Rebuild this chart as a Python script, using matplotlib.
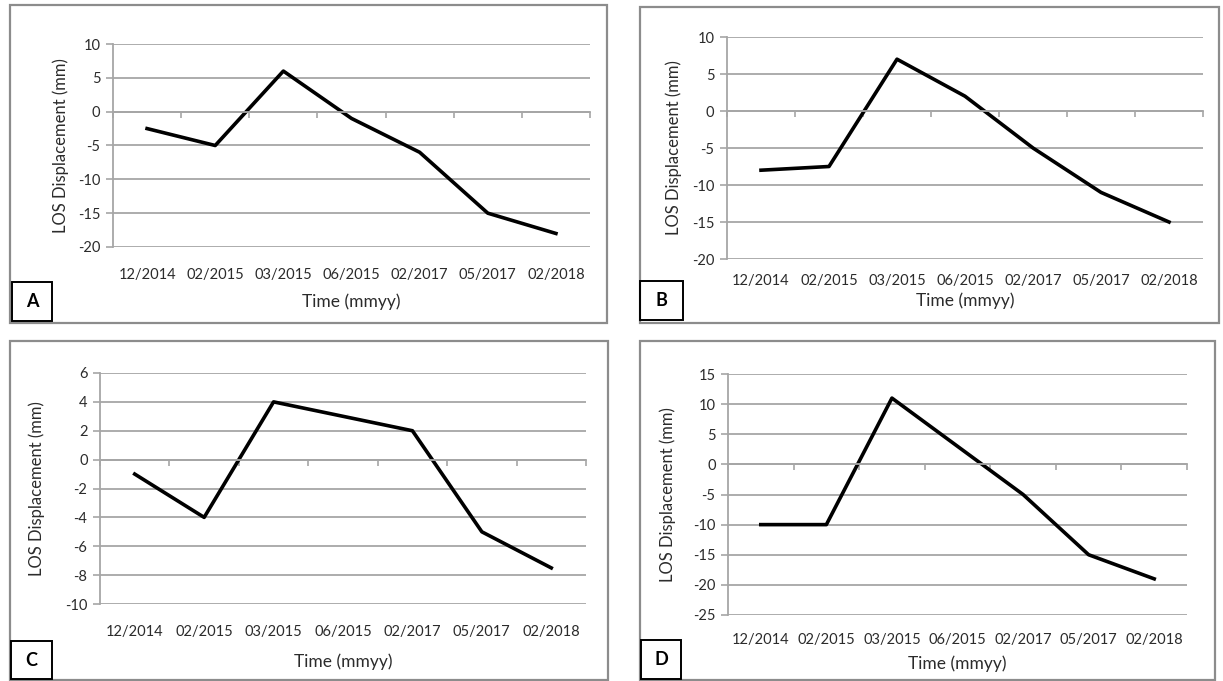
import numpy as np
import matplotlib
matplotlib.use("Agg")
import matplotlib.pyplot as plt
from matplotlib.patches import Rectangle

plt.rcParams["font.family"] = ["Lato", "DejaVu Sans"]
plt.rcParams["axes.unicode_minus"] = False

# Acquisition dates (categories) shared by all four panels
dates = ["12/2014", "02/2015", "03/2015", "06/2015", "02/2017", "05/2017", "02/2018"]

# LOS displacement series (mm)
disp_a = [-2.5, -5, 6, -1, -6, -15, -18]
disp_b = [-8, -7.5, 7, 2, -5, -11, -15]
disp_c = [-1, -4, 4, 3, 2, -5, -7.5]
disp_d = [-10, -10, 11, 3, -5, -15, -19]

W, H = 1223, 681
fig = plt.figure(figsize=(W / 100, H / 100), dpi=100)
fig.patch.set_facecolor("white")


def fx(x):
    return x / W


def fy(y):
    return 1 - y / H


def frame(x0, y0, x1, y1, **kw):
    r = Rectangle((fx(x0), fy(y1)), fx(x1 - x0), (y1 - y0) / H,
                  transform=fig.transFigure, fill=False, **kw)
    fig.add_artist(r)


grid_c = "#a6a6a6"
text_c = "#2b2b2b"

# layout per panel: outer frame, axes box, letter box, y range and step,
# y-label x, label offset below axes, time-label y
panels = [
    dict(letter="A", data=disp_a, frame=(10, 5, 607, 323), axes=(113, 44, 590, 247),
         box=(12, 282, 52, 321), ylim=(-20, 10), step=5, ylab_x=61, lab_off=15, time_y=302),
    dict(letter="B", data=disp_b, frame=(640, 7, 1219, 323), axes=(727, 37, 1203, 259),
         box=(640, 281, 683, 320), ylim=(-20, 10), step=5, ylab_x=674, lab_off=11, time_y=301),
    dict(letter="C", data=disp_c, frame=(10, 341, 608, 680), axes=(100, 373, 586, 604),
         box=(11, 641, 52, 679), ylim=(-10, 6), step=2, ylab_x=37, lab_off=15, time_y=662),
    dict(letter="D", data=disp_d, frame=(640, 341, 1215, 680), axes=(728, 374, 1187, 615),
         box=(641, 640, 681, 679), ylim=(-25, 15), step=5, ylab_x=668, lab_off=13, time_y=664),
]

x = np.arange(len(dates))

for p in panels:
    frame(*p["frame"], edgecolor="#8c8c8c", linewidth=1.6)

    l, t, r, b = p["axes"]
    ax = fig.add_axes([fx(l), fy(b), fx(r - l), (b - t) / H])
    lo, hi = p["ylim"]
    ax.set_ylim(lo, hi)
    ax.set_xlim(-0.5, len(dates) - 0.5)
    ax.set_yticks(np.arange(lo, hi + p["step"], p["step"]))
    ax.yaxis.grid(True, color=grid_c, linewidth=1.3)
    ax.set_axisbelow(True)

    for s in ("top", "right"):
        ax.spines[s].set_visible(False)
    ax.spines["left"].set_color(grid_c)
    ax.spines["left"].set_linewidth(1.3)
    ax.spines["bottom"].set_position(("data", 0))
    ax.spines["bottom"].set_color(grid_c)
    ax.spines["bottom"].set_linewidth(1.3)

    # tick marks on the zero line sit between categories
    ax.set_xticks(np.arange(-0.5, len(dates)))
    ax.set_xticklabels([])
    ax.tick_params(axis="x", direction="out", length=4, color=grid_c, width=1.2)
    ax.tick_params(axis="y", direction="out", length=5, color=grid_c, width=1.2,
                   labelsize=10.5, labelcolor=text_c, pad=4)

    for i, d in enumerate(dates):
        ax.annotate(d, xy=(i, 0), xycoords=ax.get_xaxis_transform(),
                    xytext=(0, -p["lab_off"]), textcoords="offset points",
                    ha="center", va="top", fontsize=10.5, color=text_c)

    ax.plot(x, p["data"], color="black", linewidth=2.6)

    fig.text(fx(p["ylab_x"]), fy((t + b) / 2), "LOS Displacement (mm)", rotation=90,
             ha="center", va="center", fontsize=12, color=text_c)
    fig.text(fx((l + r) / 2), fy(p["time_y"]), "Time (mmyy)",
             ha="center", va="center", fontsize=12.5, color=text_c)

    bx0, by0, bx1, by1 = p["box"]
    frame(bx0, by0, bx1, by1, edgecolor="black", linewidth=1.4)
    fig.text(fx((bx0 + bx1) / 2), fy((by0 + by1) / 2), p["letter"],
             ha="center", va="center", fontsize=13, fontweight="bold", color="black")

fig.savefig("out.png", dpi=100)
